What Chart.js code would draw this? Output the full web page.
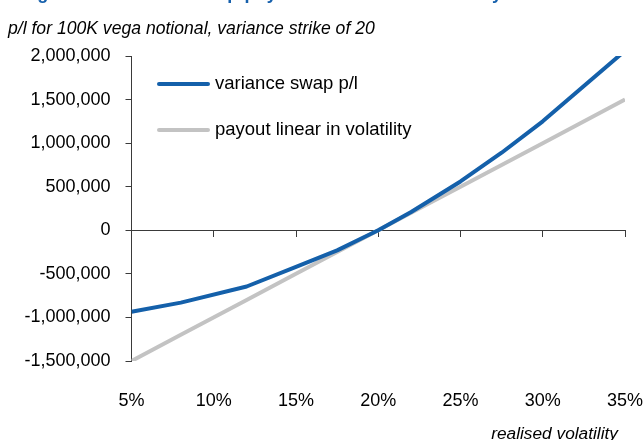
<!DOCTYPE html>
<html>
<head>
<meta charset="utf-8">
<script src="https://cdn.jsdelivr.net/npm/chart.js@4.4.1/dist/chart.umd.min.js"></script>
<style>
  html, body { margin:0; padding:0; background:#fff; }
  #wrap { position:relative; width:643px; height:440px; overflow:hidden; font-family:'Liberation Sans',Arial,sans-serif; }
  #chart { position:absolute; left:0; top:0; }
  .txt { position:absolute; white-space:nowrap; color:#000; }
  #figTitle { left:20px; top:-17px; font-weight:bold; font-size:18px; letter-spacing:0.6px; color:#1660AC; }
  #subTitle { left:8px; top:18px; font-style:italic; font-size:17.6px; }
  #xTitle { right:25px; top:423px; font-style:italic; font-size:17.3px; }
</style>
</head>
<body>
<div id="wrap">
  <canvas id="chart" width="643" height="440"></canvas>
  <div class="txt" id="figTitle">Figure 1: Variance swap payoff is convex in volatility</div>
  <div class="txt" id="subTitle">p/l for 100K vega notional, variance strike of 20</div>
  <div class="txt" id="xTitle">realised volatility</div>
</div>
<script>
// ===== DATA =====
const vols = [5, 8, 12, 15, 17.5, 20, 22, 25, 27.5, 30, 35];
const swapPL = [-935000, -830000, -645000, -420000, -230000, 0, 210000, 560000, 890000, 1250000, 2060000];
const linearPL = [-1500000, -1200000, -800000, -500000, -250000, 0, 200000, 500000, 750000, 1000000, 1500000];
const seriesNames = ['variance swap p/l', 'payout linear in volatility'];
const seriesColors = ['#1460AA', '#C3C3C3'];
const xTicks = [5, 10, 15, 20, 25, 30, 35];
const yMin = -1500000, yMax = 2000000, yStep = 500000;

const FONT = "'Liberation Sans',Arial,sans-serif";
const AXIS = '#3a3a3a';

// legend drawn inside the plot, Excel style
const insideLegend = {
  id: 'insideLegend',
  afterDatasetsDraw(chart) {
    const ctx = chart.ctx;
    ctx.save();
    chart.data.datasets.forEach((ds, i) => {
      const y = 84 + i * 46;
      ctx.strokeStyle = ds.borderColor;
      ctx.lineWidth = 4;
      ctx.lineCap = 'round';
      ctx.beginPath(); ctx.moveTo(159, y); ctx.lineTo(208, y); ctx.stroke();
      ctx.fillStyle = '#000';
      ctx.font = '18.5px ' + FONT;
      ctx.textBaseline = 'middle';
      ctx.fillText(ds.label, 215, y);
    });
    ctx.restore();
  }
};

const pts = arr => vols.map((v, i) => ({ x: v, y: arr[i] }));
const noPad = s => { s.paddingLeft = 0; s.paddingRight = 0; };

new Chart(document.getElementById('chart'), {
  type: 'line',
  data: {
    datasets: [
      { label: seriesNames[0], data: pts(swapPL), borderColor: seriesColors[0], borderWidth: 4, order: 0 },
      { label: seriesNames[1], data: pts(linearPL), borderColor: seriesColors[1], borderWidth: 4, order: 1 }
    ]
  },
  options: {
    responsive: false,
    animation: false,
    events: [],
    elements: { point: { radius: 0 }, line: { tension: 0, borderJoinStyle: 'round', borderCapStyle: 'butt' } },
    layout: { padding: { top: 56, right: 18, left: 0, bottom: 0 } },
    plugins: { legend: { display: false }, tooltip: { enabled: false } },
    scales: {
      x: {
        type: 'linear', position: 'bottom', min: 5, max: 35,
        afterBuildTicks: s => { s.ticks = xTicks.map(v => ({ value: v })); },
        afterFit: s => { s.height = 79; noPad(s); },
        border: { display: false },
        grid: { display: false, drawTicks: false },
        ticks: { color: '#000', font: { family: FONT, size: 18 }, padding: 29, maxRotation: 0, callback: v => v + '%' }
      },
      x0: {
        type: 'linear', position: { y: 0 }, min: 5, max: 35,
        afterBuildTicks: s => { s.ticks = xTicks.map(v => ({ value: v })); },
        afterFit: noPad,
        border: { display: true, color: AXIS, width: 1 },
        grid: { drawOnChartArea: false, drawTicks: true, tickLength: 6, color: AXIS },
        ticks: { display: false }
      },
      y: {
        min: yMin, max: yMax,
        afterFit: s => { s.width = 131.5; },
        border: { display: true, color: AXIS, width: 1 },
        grid: { drawOnChartArea: false, drawTicks: true, tickLength: 6, color: AXIS },
        ticks: { stepSize: yStep, color: '#000', font: { family: FONT, size: 18 }, padding: 15,
                 callback: v => v.toLocaleString('en-US') }
      }
    }
  },
  plugins: [insideLegend]
});
</script>
</body>
</html>
